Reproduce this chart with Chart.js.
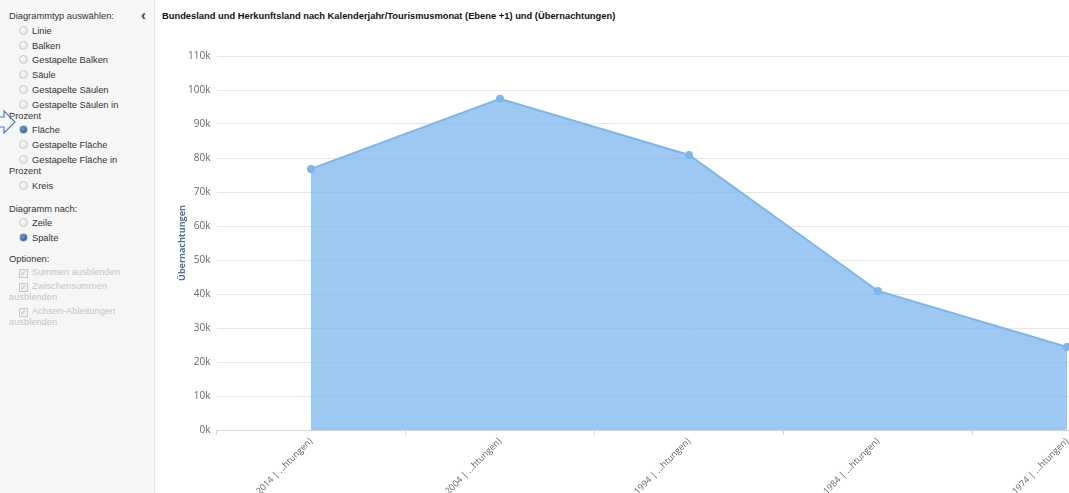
<!DOCTYPE html>
<html lang="de">
<head>
<meta charset="utf-8">
<title>Übernachtungen</title>
<script src="https://cdn.jsdelivr.net/npm/chart.js@4"></script>
<style>
  html, body { margin:0; padding:0; width:1069px; height:493px; overflow:hidden; background:#fff; }
  body { position:relative; font-family:"Liberation Sans", Arial, sans-serif; }
  #side { position:absolute; left:0; top:0; width:154px; height:493px; background:#f6f6f6; border-right:1px solid #e2e2e2; }
  .t { position:absolute; left:9px; width:140px; font-size:9.3px; line-height:11px; color:#333; white-space:nowrap; }
  .dis { color:#c4c4c4; }
  .rb { display:inline-block; width:7px; height:7px; border-radius:50%; border:1px solid #c9c9c9;
        background:radial-gradient(circle at 40% 35%, #fbfbfb, #dcdcdc); margin:0 4px 0 10px; vertical-align:-1px; box-sizing:content-box; }
  .rb.on { background:radial-gradient(circle at 40% 40%, #6f9fd0 0, #2f5f95 70%); border-color:#b9c4d0; }
  .cb { display:inline-block; width:7px; height:7px; border:1px solid #c9c9c9; background:#f0f0f0; margin:0 4px 0 10px;
        vertical-align:-1px; position:relative; font-size:8px; line-height:7px; color:#b5b5b5; text-align:center; }
  .chev { position:absolute; left:141px; top:8px; font-size:15px; font-weight:bold; color:#444; line-height:14px; }
  #title { position:absolute; left:162px; top:11px; font-family:"Liberation Sans", Arial, sans-serif; font-weight:bold; font-size:9.35px; color:#111; white-space:nowrap; }
  #wrap { position:absolute; left:155px; top:0; width:1020px; height:493px; }
  #arrow { position:absolute; left:0; top:103px; }
</style>
</head>
<body>
<div id="side">
  <div class="t" style="top:11px">Diagrammtyp auswählen:</div>
  <div class="chev">&lsaquo;</div>
  <div class="t" style="top:26px"><span class="rb"></span>Linie</div>
  <div class="t" style="top:41px"><span class="rb"></span>Balken</div>
  <div class="t" style="top:55px"><span class="rb"></span>Gestapelte Balken</div>
  <div class="t" style="top:70px"><span class="rb"></span>Säule</div>
  <div class="t" style="top:85px"><span class="rb"></span>Gestapelte Säulen</div>
  <div class="t" style="top:100px"><span class="rb"></span>Gestapelte Säulen in<br>Prozent</div>
  <div class="t" style="top:125px"><span class="rb on"></span>Fläche</div>
  <div class="t" style="top:140px"><span class="rb"></span>Gestapelte Fläche</div>
  <div class="t" style="top:155px"><span class="rb"></span>Gestapelte Fläche in<br>Prozent</div>
  <div class="t" style="top:181px"><span class="rb"></span>Kreis</div>
  <div class="t" style="top:204px">Diagramm nach:</div>
  <div class="t" style="top:218px"><span class="rb"></span>Zeile</div>
  <div class="t" style="top:233px"><span class="rb on"></span>Spalte</div>
  <div class="t" style="top:254px">Optionen:</div>
  <div class="t dis" style="top:267px"><span class="cb">✓</span>Summen ausblenden</div>
  <div class="t dis" style="top:281px"><span class="cb">✓</span>Zwischensummen<br>ausblenden</div>
  <div class="t dis" style="top:306px"><span class="cb">✓</span>Achsen-Ableitungen<br>ausblenden</div>
</div>
<svg id="arrow" width="20" height="40" viewBox="0 0 20 40">
  <polygon points="-10,14 4,14 4,8 15,19 4,30 4,24 -10,24" fill="none" stroke="#4f7fc0" stroke-width="1.2"/>
</svg>
<div id="title">Bundesland und Herkunftsland nach Kalenderjahr/Tourismusmonat (Ebene +1) und (Übernachtungen)</div>
<div id="wrap"><canvas id="c" width="1020" height="493"></canvas></div>
<script>
const categories = ["2014 | ...htungen)", "2004 | ...htungen)", "1994 | ...htungen)", "1984 | ...htungen)", "1974 | ...htungen)"];
const uebernachtungen = [76800, 97400, 80900, 40900, 24400];
const yAxisTitle = "Übernachtungen";
const yMin = 0;
const yMax = 110000;
const yStep = 10000;

new Chart(document.getElementById('c'), {
  type: 'line',
  data: {
    labels: categories,
    datasets: [{
      label: yAxisTitle,
      data: uebernachtungen,
      fill: 'origin',
      backgroundColor: 'rgba(124,181,236,0.75)',
      borderColor: '#7cb5ec',
      borderWidth: 2,
      pointRadius: 3,
      pointBackgroundColor: '#7cb5ec',
      pointBorderColor: '#7cb5ec',
      tension: 0
    }]
  },
  options: {
    responsive: false,
    devicePixelRatio: 1,
    animation: false,
    layout: { padding: { top: 56, right: 13.5, bottom: 0, left: 0 } },
    plugins: { legend: { display: false }, tooltip: { enabled: false }, title: { display: false } },
    scales: {
      x: {
        offset: true,
        grid: { offset: true, drawOnChartArea: false, drawTicks: true, tickLength: 5, color: '#ccd6eb' },
        border: { color: '#ccd6eb' },
        ticks: { autoSkip: false, minRotation: 45, maxRotation: 45, padding: 1, color: '#666',
                 font: { family: 'Open Sans', size: 9 } },
        afterFit: s => { s.height = 63; }
      },
      y: {
        min: yMin, max: yMax,
        border: { display: false },
        grid: { color: '#e6e6e6', drawTicks: false },
        ticks: { stepSize: yStep, padding: 6, color: '#666', font: { family: 'Open Sans', size: 10 },
                 callback: v => (v / 1000) + 'k' },
        title: { display: true, text: yAxisTitle, color: '#4d6f94',
                 font: { family: 'Open Sans', size: 9, weight: 'bold' }, padding: { top: 22, bottom: 0 } },
        afterFit: s => { s.width = 61.5; }
      }
    }
  }
});
</script>
</body>
</html>
